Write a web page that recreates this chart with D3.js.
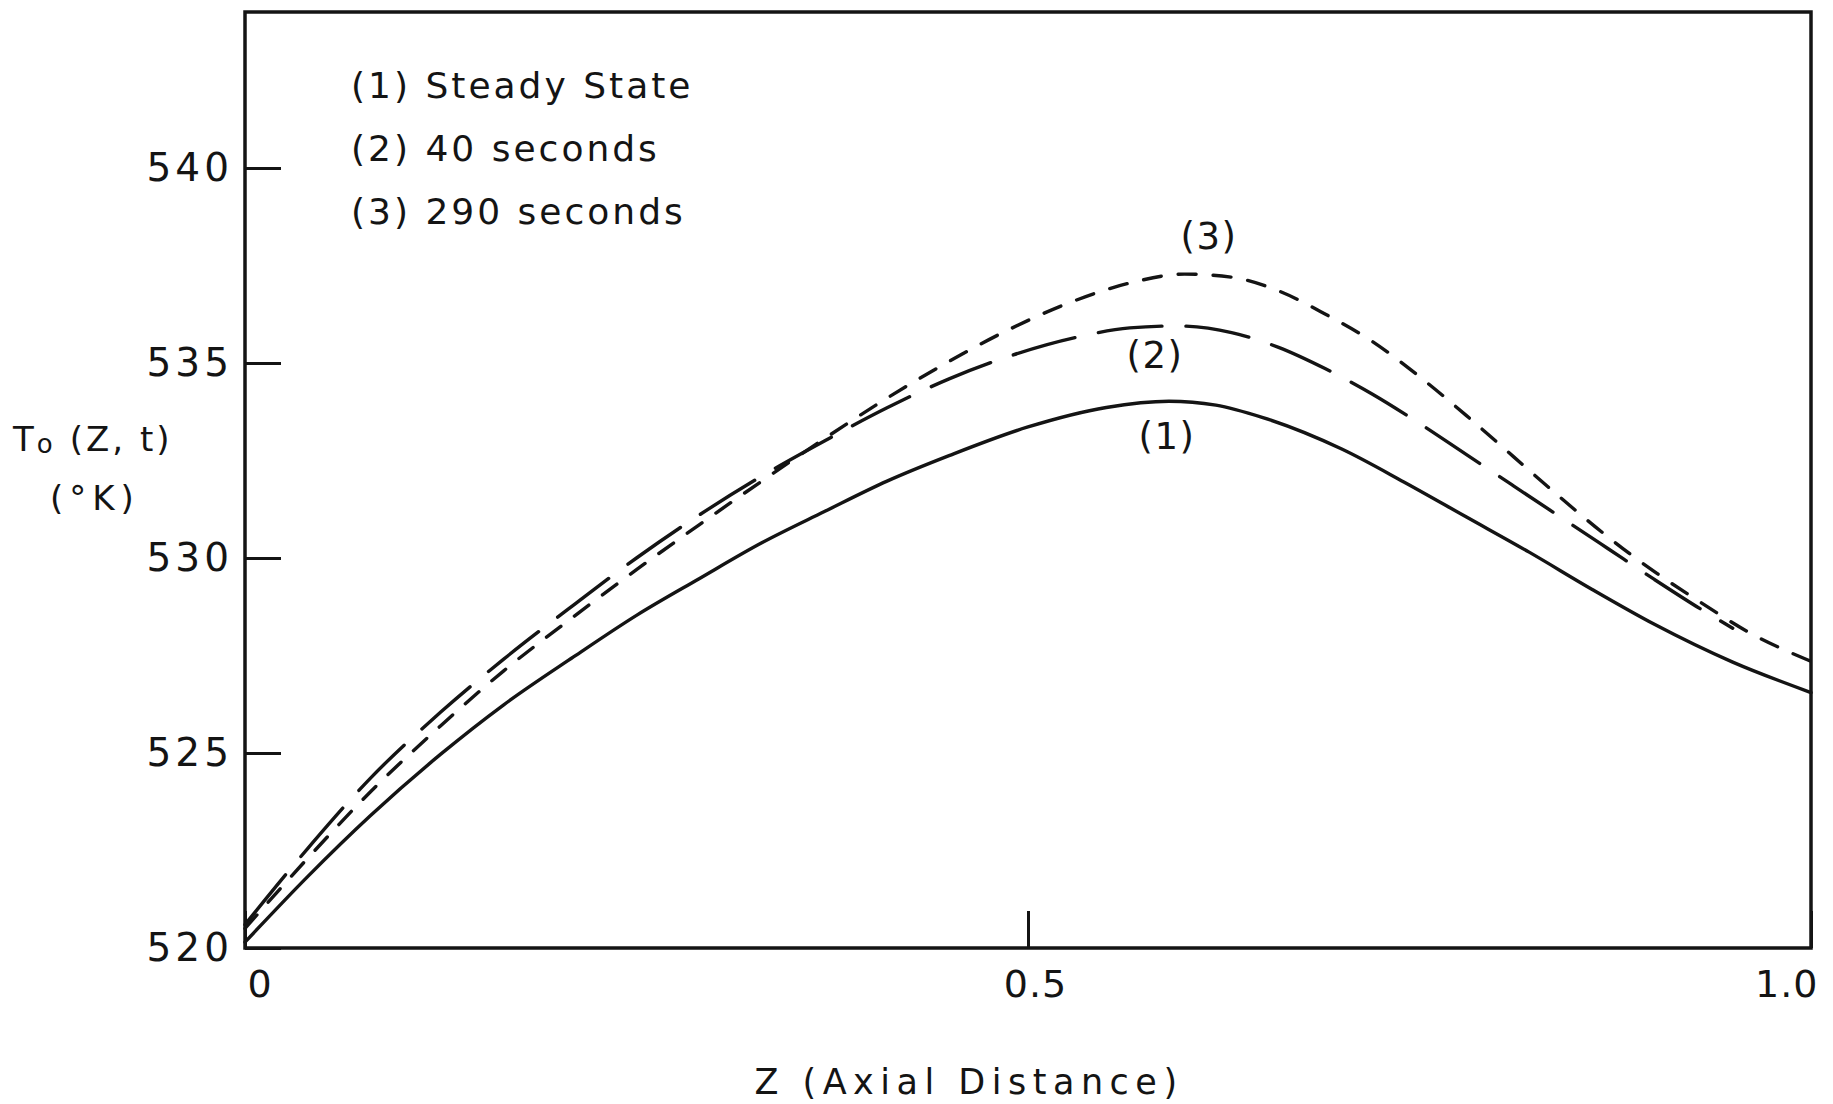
<!DOCTYPE html>
<html>
<head>
<meta charset="utf-8">
<script src="https://cdn.jsdelivr.net/npm/d3@7"></script>
<style>
  html, body { margin: 0; padding: 0; background: #ffffff; }
  svg { display: block; }
  text { font-family: "DejaVu Sans", "Liberation Sans", sans-serif; fill: #141414; }
</style>
</head>
<body>
<svg id="chart" width="1833" height="1104"></svg>
<script>
// Axial temperature profile T0(Z,t) — steady state and two transient times

// (1) steady state
const zSteady = [0, 0.04, 0.08, 0.125, 0.165, 0.21, 0.25, 0.29, 0.33, 0.37, 0.41, 0.45, 0.5, 0.55, 0.59,
                 0.62, 0.65, 0.7, 0.74, 0.78, 0.82, 0.86, 0.9, 0.95, 1.0];
const tSteady = [520.15, 521.83, 523.39, 524.97, 526.23, 527.47, 528.53, 529.47, 530.39, 531.19, 531.97, 532.63, 533.36, 533.86, 534.02,
                 533.92, 533.6, 532.8, 531.95, 531.05, 530.15, 529.2, 528.3, 527.33, 526.55];

// (2) 40 seconds
const z40s = [0, 0.04, 0.08, 0.125, 0.165, 0.21, 0.25, 0.29, 0.33, 0.37, 0.41, 0.45, 0.49, 0.53, 0.565, 0.595,
              0.63, 0.66, 0.69, 0.72, 0.75, 0.78, 0.81, 0.84, 0.87, 0.9, 0.93, 0.95];
const t40s = [520.6, 522.55, 524.35, 526.05, 527.4, 528.8, 530.0, 531.1, 532.1, 533.0, 533.85, 534.6, 535.2, 535.65, 535.9, 535.95,
              535.78, 535.4, 534.85, 534.2, 533.45, 532.65, 531.85, 531.05, 530.25, 529.45, 528.68, 528.2];

// (3) 290 seconds
const z290s = [0, 0.04, 0.08, 0.125, 0.165, 0.21, 0.25, 0.29, 0.33, 0.37, 0.41, 0.45, 0.49, 0.53, 0.565, 0.6,
               0.63, 0.66, 0.69, 0.72, 0.75, 0.78, 0.81, 0.84, 0.87, 0.9, 0.93, 0.96, 1.0];
const t290s = [520.5, 522.3, 524.0, 525.7, 527.1, 528.5, 529.7, 530.85, 531.97, 533.06, 534.1, 535.05, 535.9, 536.6, 537.05, 537.28,
               537.2, 536.85, 536.25, 535.55, 534.65, 533.65, 532.6, 531.55, 530.55, 529.65, 528.85, 528.1, 527.35];

const yTicks = [520, 525, 530, 535, 540];
const xTicks = [0, 0.5, 1.0];
const xTickLabels = ["0", "0.5", "1.0"];
const legendLabels = ["(1) Steady State", "(2) 40 seconds", "(3) 290 seconds"];
const curveTags = ["(1)", "(2)", "(3)"];

const svg = d3.select("#chart");
const ink = "#141414";

const x = d3.scaleLinear().domain([0, 1]).range([245, 1811]);
const y = d3.scaleLinear().domain([520, 544]).range([948, 12]);

// frame
svg.append("rect")
  .attr("x", x(0)).attr("y", y(544))
  .attr("width", x(1) - x(0)).attr("height", y(520) - y(544))
  .attr("fill", "none").attr("stroke", ink).attr("stroke-width", 3.5);

// left axis: inward ticks (the 520 tick lies on the frame)
const gy = svg.append("g")
  .attr("transform", `translate(${x(0)},0)`)
  .call(d3.axisLeft(y).tickValues(yTicks).tickSizeInner(-36).tickSizeOuter(0).tickPadding(12)
        .tickFormat(d3.format("d")));
gy.select(".domain").remove();
gy.selectAll(".tick line").attr("stroke", ink).attr("stroke-width", 3);
gy.selectAll(".tick text")
  .attr("font-size", 39).attr("letter-spacing", 4).attr("fill", ink)
  .style("font-family", '"DejaVu Sans", sans-serif');

// bottom axis: single inward tick at 0.5
const gx = svg.append("g")
  .attr("transform", `translate(0,${y(520)})`)
  .call(d3.axisBottom(x).tickValues(xTicks).tickSizeInner(-37).tickSizeOuter(0).tickPadding(22)
        .tickFormat((d, i) => xTickLabels[i]));
gx.select(".domain").remove();
gx.selectAll(".tick line").attr("stroke", ink).attr("stroke-width", 3);
gx.selectAll(".tick text")
  .attr("font-size", 38).attr("letter-spacing", 1).attr("fill", ink)
  .style("font-family", '"DejaVu Sans", sans-serif')
  .attr("text-anchor", (d, i) => i === 0 ? "start" : i === xTicks.length - 1 ? "end" : "middle")
  .attr("dx", (d, i) => i === 0 ? 2 : 7);

// curves
const line = d3.line().x(d => x(d[0])).y(d => y(d[1])).curve(d3.curveMonotoneX);
const series = [
  { z: zSteady, t: tSteady, dash: null },
  { z: z40s, t: t40s, dash: "64 24" },
  { z: z290s, t: t290s, dash: "18 17" }
];
series.forEach(s => {
  svg.append("path")
    .datum(s.z.map((v, i) => [v, s.t[i]]))
    .attr("d", line)
    .attr("fill", "none")
    .attr("stroke", ink)
    .attr("stroke-width", 3.4)
    .attr("stroke-linecap", "round")
    .attr("stroke-dasharray", s.dash);
});

// curve tags
const tagPos = [[1167, 449], [1155, 368], [1209, 249]];
curveTags.forEach((t, i) => {
  svg.append("text")
    .attr("x", tagPos[i][0]).attr("y", tagPos[i][1])
    .attr("text-anchor", "middle")
    .attr("font-size", 37).attr("letter-spacing", 1.5)
    .text(t);
});

// legend
legendLabels.forEach((t, i) => {
  svg.append("text")
    .attr("x", 351).attr("y", 98 + i * 63)
    .attr("font-size", 36).attr("letter-spacing", 3)
    .text(t);
});

// y-axis title
const yt = svg.append("text").attr("x", 13).attr("y", 451).attr("font-size", 34).attr("letter-spacing", 3);
yt.append("tspan").text("T");
yt.append("tspan").attr("font-size", 26).attr("dy", 2).text("o");
yt.append("tspan").attr("dy", -2).attr("dx", 14).text("(Z, t)");
svg.append("text").attr("x", 50).attr("y", 510).attr("font-size", 34).attr("letter-spacing", 6).text("(°K)");

// x-axis title
svg.append("text")
  .attr("x", 969).attr("y", 1094)
  .attr("text-anchor", "middle")
  .attr("font-size", 35).attr("letter-spacing", 6.5)
  .text("Z (Axial Distance)");
</script>
</body>
</html>
